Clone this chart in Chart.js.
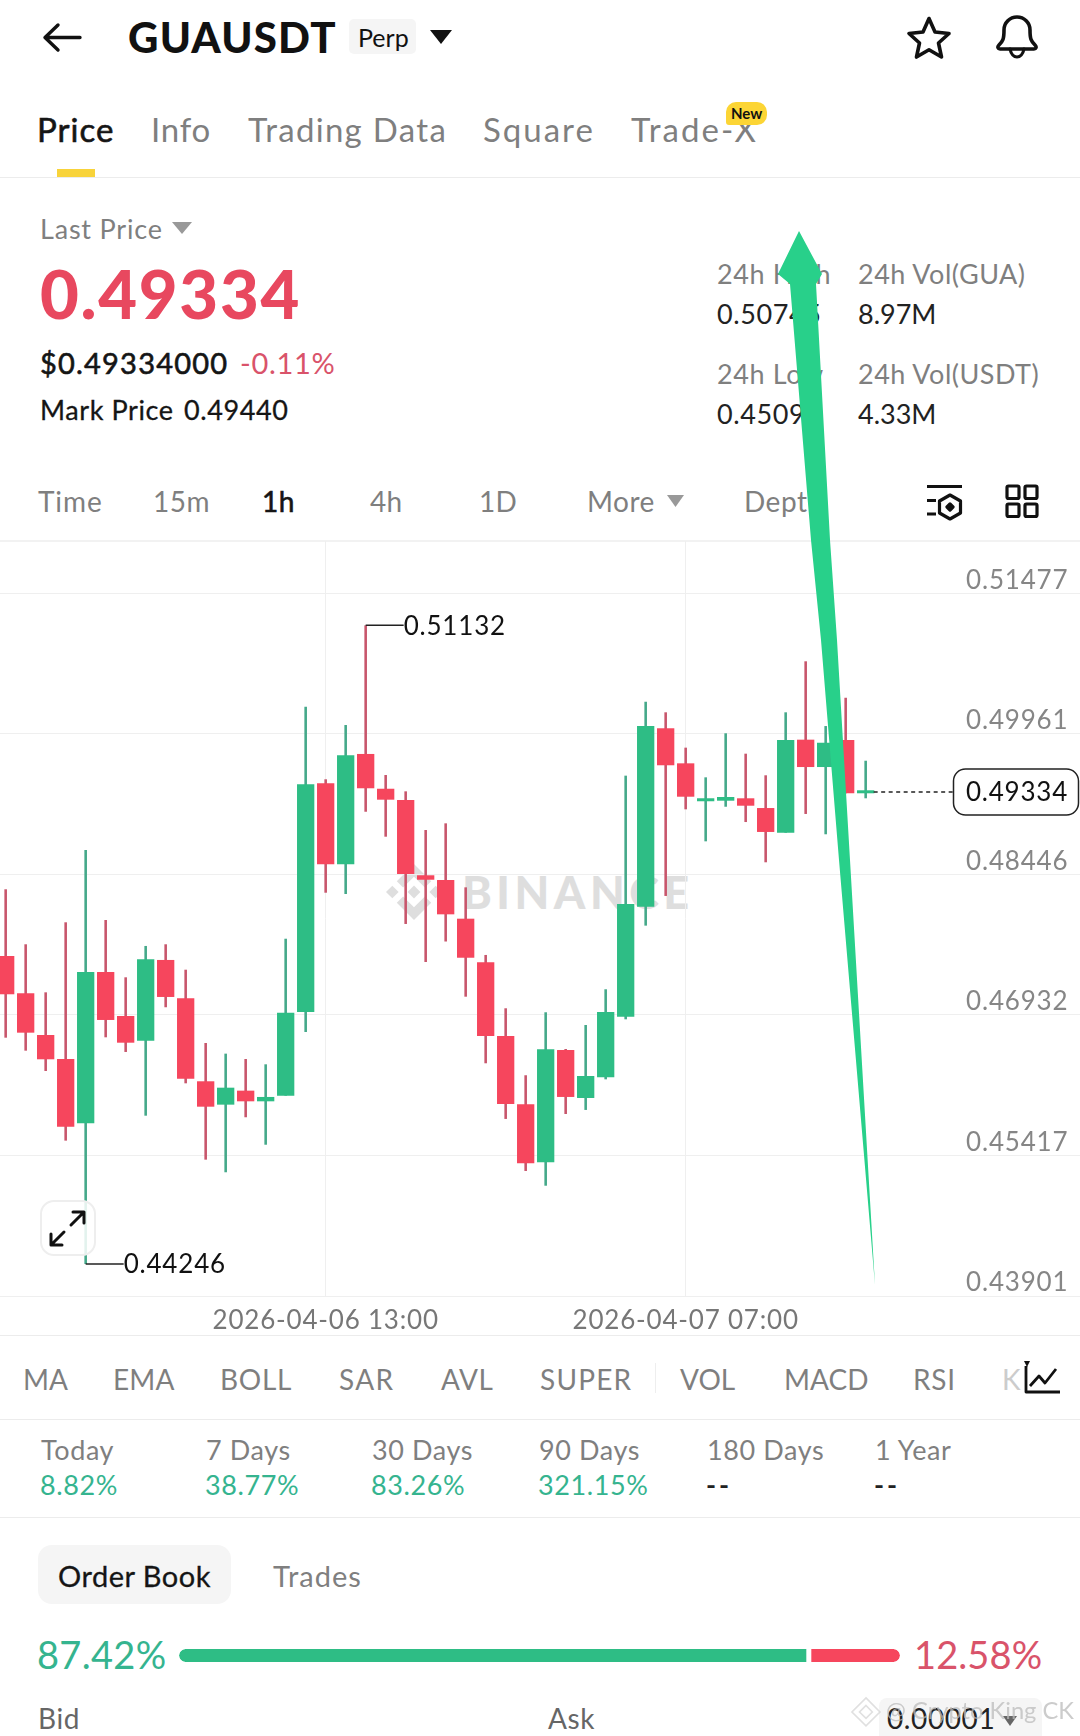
<!DOCTYPE html>
<html>
<head>
<meta charset="utf-8">
<title>GUAUSDT Perp</title>
<script src="https://cdn.jsdelivr.net/npm/chart.js@4/dist/chart.umd.min.js"></script>
<style>
  html, body { margin: 0; padding: 0; background: #fff; }
  body { position: relative; width: 1080px; height: 1736px; overflow: hidden; font-family: Lato, sans-serif; color: #111; }
  .t { position: absolute; white-space: nowrap; line-height: 1; transform: translateY(-50%); letter-spacing: .6px; }
  .g { color: #7f7f7f; }
  .hr { position: absolute; left: 0; width: 1080px; height: 1px; background: #ececec; }
  .box { position: absolute; }
  svg { position: absolute; overflow: visible; }
  #kline { position: absolute; left: 0; top: 541px; z-index: 1; }
  #depth { position: absolute; left: 179px; top: 1645px; }
  .wm { color: #dedede; font-weight: 900; }
</style>
</head>
<body>

<!-- header -->
<svg style="left:0;top:0" width="1080" height="60" fill="none" stroke="#111" stroke-width="3.4" stroke-linecap="round" stroke-linejoin="round">
  <path d="M80 37.5H45M58 25L45 37.5L58 50"/>
  <path d="M929 18.5l6 13.5 14 1.5-10.5 9.5 3 14-12.5-7.3-12.5 7.3 3-14-10.5-9.5 14-1.5z" stroke-width="3.6"/>
  <path d="M1004 30a13 13 0 0 1 26 0c0 9 1 11 5 15 2 2 1 4-1 4h-34c-2 0-3-2-1-4 4-4 5-6 5-15z" stroke-width="3.6"/>
  <path d="M1010 49c1 5 4 8 7 8s6-3 7-8" stroke-width="3.2"/>
</svg>
<div class="t" style="left:128px;top:37px;font-size:42px;font-weight:900;letter-spacing:1.2px">GUAUSDT</div>
<div class="box" style="left:349px;top:19px;width:67px;height:35px;background:#f5f5f5;border-radius:5px"></div>
<div class="t" style="left:358px;top:37px;font-size:25px;letter-spacing:0">Perp</div>
<svg style="left:430px;top:30px" width="22" height="14"><path d="M0 0H22L11 14Z" fill="#111"/></svg>

<!-- tabs -->
<div class="t" style="left:37px;top:129px;font-size:33px;color:#151515;-webkit-text-stroke:.6px #151515;letter-spacing:1px">Price</div>
<div class="t g" style="left:151px;top:129px;font-size:33px;letter-spacing:.8px">Info</div>
<div class="t g" style="left:248px;top:129px;font-size:33px;letter-spacing:1.3px">Trading Data</div>
<div class="t g" style="left:483px;top:129px;font-size:33px;letter-spacing:2px">Square</div>
<div class="t g" style="left:631px;top:129px;font-size:33px;letter-spacing:2px">Trade-X</div>
<div class="box" style="left:726px;top:102px;width:41px;height:23px;background:#fcd535;border-radius:10px 10px 10px 3px"></div>
<div class="t" style="left:731px;top:113px;font-size:15px;font-weight:700;letter-spacing:0">New</div>
<div class="box" style="left:57px;top:169px;width:38px;height:8px;background:#f8d33a"></div>
<div class="hr" style="top:177px"></div>

<!-- price block -->
<div class="t g" style="left:40px;top:228px;font-size:27px;letter-spacing:.8px">Last Price</div>
<svg style="left:172px;top:222px" width="20" height="12"><path d="M0 0H20L10 12Z" fill="#999"/></svg>
<div class="t" style="left:40px;top:293px;font-size:67px;font-weight:900;color:#e8485f;letter-spacing:1.7px">0.49334</div>
<div class="t" style="left:40px;top:362px;font-size:29px;color:#151515;-webkit-text-stroke:.6px #151515;letter-spacing:1.2px">$0.49334000</div>
<div class="t" style="left:240px;top:362px;font-size:29px;color:#d9536a;letter-spacing:.7px">-0.11%</div>
<div class="t" style="left:40px;top:409px;font-size:27px;color:#151515;-webkit-text-stroke:.3px #151515">Mark Price</div>
<div class="t" style="left:184px;top:409px;font-size:27px;color:#151515;-webkit-text-stroke:.3px #151515">0.49440</div>

<div class="t g" style="left:717px;top:273px;font-size:27px">24h High</div>
<div class="t g" style="left:858px;top:273px;font-size:27px;letter-spacing:.5px">24h Vol(GUA)</div>
<div class="t" style="left:717px;top:313px;font-size:27px;color:#222">0.50745</div>
<div class="t" style="left:858px;top:313px;font-size:27px;color:#222;letter-spacing:0">8.97M</div>
<div class="t g" style="left:717px;top:373px;font-size:27px">24h Low</div>
<div class="t g" style="left:858px;top:373px;font-size:27px;letter-spacing:.5px">24h Vol(USDT)</div>
<div class="t" style="left:717px;top:413px;font-size:27px;color:#222">0.45090</div>
<div class="t" style="left:858px;top:413px;font-size:27px;color:#222;letter-spacing:0">4.33M</div>

<!-- interval row -->
<div class="t g" style="left:38px;top:501px;font-size:28px;letter-spacing:.9px">Time</div>
<div class="t g" style="left:153px;top:501px;font-size:28px;letter-spacing:.5px">15m</div>
<div class="t" style="left:262px;top:501px;font-size:28px;color:#151515;-webkit-text-stroke:.6px #151515;letter-spacing:.4px">1h</div>
<div class="t g" style="left:370px;top:501px;font-size:28px;letter-spacing:.3px">4h</div>
<div class="t g" style="left:479px;top:501px;font-size:28px;letter-spacing:.3px">1D</div>
<div class="t g" style="left:587px;top:501px;font-size:28px;letter-spacing:.5px">More</div>
<svg style="left:667px;top:495px" width="17" height="12"><path d="M0 0H17L8.5 12Z" fill="#999"/></svg>
<div class="t g" style="left:744px;top:501px;font-size:28px;letter-spacing:.5px">Depth</div>
<svg style="left:0;top:480px" width="1080" height="50" fill="none" stroke="#111" stroke-width="3.2" stroke-linejoin="round">
  <path d="M927 6.5H962M927 20.5H936M927 34H936"/>
  <path d="M950 15l10.5 6v12l-10.5 6-10.5-6v-12z"/>
  <path d="M950 24l3 3-3 3-3-3z" fill="#111"/>
  <rect x="1007" y="6" width="12" height="12.5" rx="1.5"/><rect x="1025" y="6" width="12" height="12.5" rx="1.5"/>
  <rect x="1007" y="24" width="12" height="12.5" rx="1.5"/><rect x="1025" y="24" width="12" height="12.5" rx="1.5"/>
</svg>
<div class="hr" style="top:540px;height:2px;background:#f2f2f2"></div>

<!-- watermark sits behind the transparent chart canvas -->
<svg style="left:386px;top:864px" width="56" height="56" viewBox="0 0 126.61 126.61" fill="#dedede">
  <path d="M38.73 53.2L63.3 28.63l24.6 24.6 14.3-14.3L63.3 0 24.43 38.9z"/>
  <path d="M0 63.31l14.3-14.3 14.3 14.3-14.3 14.3z"/>
  <path d="M38.73 73.41l24.57 24.57 24.6-24.6 14.31 14.29-38.9 38.94-38.88-38.89z"/>
  <path d="M98.02 63.31l14.3-14.3 14.3 14.3-14.3 14.3z"/>
  <path d="M77.83 63.3L63.3 48.78 48.78 63.3 63.3 77.83z"/>
</svg>
<div class="t wm" style="left:462px;top:892px;font-size:45px;letter-spacing:4.5px">BINANCE</div>

<canvas id="kline" width="1080" height="794"></canvas>

<!-- expand button -->
<div class="box" style="left:40px;top:1200px;width:52px;height:52px;border:2px solid #eee;border-radius:14px;background:rgba(255,255,255,.85);z-index:2"></div>
<svg style="left:0;top:1200px;z-index:2" width="110" height="60" fill="none" stroke="#111" stroke-width="3" stroke-linecap="round" stroke-linejoin="round">
  <path d="M71 25L84 12M73 12H84V23M64 32L51 45M51 34V45H62"/>
</svg>

<div class="hr" style="top:1335px"></div>

<!-- indicators -->
<div class="t g" style="left:23px;top:1379px;font-size:28px;letter-spacing:0">MA</div>
<div class="t g" style="left:113px;top:1379px;font-size:28px;letter-spacing:.2px">EMA</div>
<div class="t g" style="left:220px;top:1379px;font-size:28px;letter-spacing:.7px">BOLL</div>
<div class="t g" style="left:339px;top:1379px;font-size:28px;letter-spacing:1.3px">SAR</div>
<div class="t g" style="left:441px;top:1379px;font-size:28px;letter-spacing:.5px">AVL</div>
<div class="t g" style="left:540px;top:1379px;font-size:28px;letter-spacing:1.2px">SUPER</div>
<div class="box" style="left:655px;top:1363px;width:1px;height:30px;background:#eee"></div>
<div class="t g" style="left:680px;top:1379px;font-size:28px;letter-spacing:0">VOL</div>
<div class="t g" style="left:784px;top:1379px;font-size:28px;letter-spacing:0">MACD</div>
<div class="t g" style="left:913px;top:1379px;font-size:28px;letter-spacing:.8px">RSI</div>
<div class="t" style="left:1002px;top:1379px;font-size:28px;color:#ccc">K</div>
<svg style="left:1024px;top:1358px" width="38" height="38" fill="none" stroke="#111" stroke-width="2.8" stroke-linejoin="round">
  <path d="M2 8V34H36"/><path d="M6 28L15 18l6 7L32 11"/><path d="M0 3H6L3 9Z" fill="#111" stroke="none"/>
</svg>
<div class="hr" style="top:1419px"></div>

<!-- period returns -->
<div id="stats"></div>
<div class="hr" style="top:1517px"></div>

<!-- order book -->
<div class="box" style="left:38px;top:1545px;width:193px;height:59px;background:#f5f5f5;border-radius:14px"></div>
<div class="t" style="left:58px;top:1575px;font-size:29px;color:#151515;-webkit-text-stroke:.3px #151515;letter-spacing:.5px">Order Book</div>
<div class="t g" style="left:273px;top:1575px;font-size:29px;letter-spacing:1px">Trades</div>
<div class="t" id="bidPct" style="left:37px;top:1654px;font-size:38px;color:#35b48f;letter-spacing:.3px"></div>
<div class="t" id="askPct" style="left:914px;top:1654px;font-size:38px;color:#d9536a;letter-spacing:.1px"></div>
<canvas id="depth" width="721" height="21"></canvas>

<div class="t" style="left:38px;top:1718px;font-size:28px;color:#666">Bid</div>
<div class="t" style="left:548px;top:1718px;font-size:28px;color:#666">Ask</div>
<div class="box" style="left:879px;top:1698px;width:163px;height:38px;background:#f5f5f5;border-radius:8px 8px 0 0"></div>
<div class="t" style="left:887px;top:1718px;font-size:28px;color:#222">0.00001</div>
<svg style="left:1003px;top:1716px" width="14" height="10"><path d="M0 0H14L7 10Z" fill="#666"/></svg>

<!-- image credit over the page -->
<svg style="left:851px;top:1697px;z-index:4;opacity:.6" width="30" height="30" viewBox="0 0 126.61 126.61" fill="none" stroke="#ccc" stroke-width="7">
  <path d="M63.3 4L122 63.3 63.3 122 4 63.3z"/><path d="M63.3 36L90 63.3 63.3 90 36 63.3z"/>
</svg>
<div class="t" style="left:886px;top:1711px;font-size:23.7px;color:#bbb;opacity:.75;z-index:4;letter-spacing:0">@ Crypto King CK</div>

<!-- the hand-drawn arrow over the screenshot -->
<svg style="left:0;top:0;z-index:3" width="1080" height="1736">
  <polygon fill="#28d08a" points="799,231 822,274 816,284 830,540 837,640 850,860 875,1285 839,860 821,640 811,540 790,284 778,274"/>
</svg>

<script>
// 1h candles, oldest first
const opens = [
  0.47567, 0.47165, 0.46715, 0.46456, 0.45763, 0.47394, 0.46920, 0.46654, 0.47524, 0.47111, 0.46216,
  0.45964, 0.46115, 0.46000, 0.46061, 0.46963, 0.49429, 0.48555, 0.49745, 0.49370, 0.49249, 0.48437,
  0.48386, 0.47969, 0.47499, 0.46704, 0.45968, 0.45343, 0.46553, 0.46036, 0.46259, 0.46911, 0.48098,
  0.50022, 0.49644, 0.49235, 0.49241, 0.49267, 0.49162, 0.48896, 0.49899, 0.49604, 0.49896, 0.49321
];
const closes = [
  0.47154, 0.46740, 0.46453, 0.45726, 0.47394, 0.46877, 0.46632, 0.47531, 0.47125, 0.46244, 0.45942,
  0.46147, 0.46000, 0.46047, 0.46956, 0.49418, 0.48555, 0.49731, 0.49375, 0.49252, 0.48451, 0.48389,
  0.48016, 0.47548, 0.46704, 0.45971, 0.45332, 0.46561, 0.46047, 0.46273, 0.46963, 0.48127, 0.50046,
  0.49623, 0.49284, 0.49256, 0.49281, 0.49187, 0.48904, 0.49896, 0.49604, 0.49866, 0.49321, 0.49334
];
const highs = [
  0.48286, 0.47693, 0.47175, 0.47930, 0.48710, 0.47955, 0.47337, 0.47675, 0.47693, 0.47419, 0.46629,
  0.46514, 0.46456, 0.46399, 0.47753, 0.50255, 0.49472, 0.50057, 0.51132, 0.49518, 0.49342, 0.48925,
  0.48997, 0.48307, 0.47578, 0.47003, 0.46281, 0.46960, 0.46564, 0.46823, 0.47208, 0.49511, 0.50308,
  0.50194, 0.49813, 0.49493, 0.49968, 0.49748, 0.49515, 0.50194, 0.50744, 0.50046, 0.50351, 0.49672
];
const lows = [
  0.46686, 0.46546, 0.46327, 0.45576, 0.44246, 0.46690, 0.46532, 0.45845, 0.47014, 0.46194, 0.45371,
  0.45235, 0.45828, 0.45532, 0.46061, 0.46747, 0.48249, 0.48235, 0.49122, 0.48853, 0.47912, 0.47502,
  0.47723, 0.47128, 0.46410, 0.45810, 0.45249, 0.45090, 0.45863, 0.45907, 0.46237, 0.46884, 0.47894,
  0.48214, 0.49148, 0.48803, 0.49176, 0.49011, 0.48577, 0.48896, 0.49098, 0.48879, 0.49321, 0.49267
];
const priceTicks = [0.51477, 0.49961, 0.48446, 0.46932, 0.45417, 0.43901];
const timeTicks = [16, 34];
const timeLabels = ["2026-04-06 13:00", "2026-04-07 07:00"];
const lastPrice = 0.49334;
const highIndex = 18;
const lowIndex = 4;

const statLabels = ["Today", "7 Days", "30 Days", "90 Days", "180 Days", "1 Year"];
const statValues = ["8.82%", "38.77%", "83.26%", "321.15%", "--", "--"];
const statLefts = [41, 206, 372, 539, 707, 875];
const bidShare = [87.42];
const askShare = [12.58];

const UP = "#2ebd85", DOWN = "#f6465d", UP_WICK = "#45a98a", DOWN_WICK = "#c8566c";
const isUp = (i) => closes[i] >= opens[i];

document.getElementById("stats").innerHTML = statLabels.map((s, i) => {
  const v = statValues[i];
  const col = v === "--" ? "#222;letter-spacing:3px;font-weight:700" : "#35b48f";
  return `<div class="t g" style="left:${statLefts[i]}px;top:1449px;font-size:27px">${s}</div>
    <div class="t" style="left:${statLefts[i] - 1}px;top:1484px;font-size:27px;color:${col}">${v}</div>`;
}).join("");
document.getElementById("bidPct").textContent = bidShare[0].toFixed(2) + "%";
document.getElementById("askPct").textContent = askShare[0].toFixed(2) + "%";

// min/max leaders, last price line and its boxed label
const priceMarks = {
  id: "priceMarks",
  afterDatasetsDraw(chart) {
    const { ctx, scales: { x, y } } = chart;
    const leader = (i, v) => {
      const px = x.getPixelForValue(i), py = y.getPixelForValue(v);
      ctx.strokeStyle = "#222";
      ctx.lineWidth = 1.5;
      ctx.beginPath();
      ctx.moveTo(px, py);
      ctx.lineTo(px + 38, py);
      ctx.stroke();
      ctx.fillStyle = "#111";
      ctx.font = "26px Lato";
      ctx.textAlign = "left";
      ctx.textBaseline = "middle";
      ctx.fillText(v.toFixed(5), px + 38, py + 1);
    };
    ctx.save();
    ctx.letterSpacing = "0.8px";
    leader(highIndex, highs[highIndex]);
    leader(lowIndex, lows[lowIndex]);

    const py = y.getPixelForValue(lastPrice);
    ctx.setLineDash([4, 3.5]);
    ctx.strokeStyle = "#222";
    ctx.lineWidth = 1.5;
    ctx.beginPath();
    ctx.moveTo(x.getPixelForValue(opens.length - 1) + 8, py);
    ctx.lineTo(953, py);
    ctx.stroke();
    ctx.setLineDash([]);
    ctx.fillStyle = "#fff";
    ctx.lineWidth = 1.5;
    ctx.beginPath();
    ctx.roundRect(953.5, py - 23, 125, 46, 12);
    ctx.fill();
    ctx.stroke();
    ctx.fillStyle = "#111";
    ctx.textAlign = "center";
    ctx.fillText(lastPrice.toFixed(5), 1017, py + 1);
    ctx.restore();
  },
};

const tickSpacing = { id: "tickSpacing", beforeDraw(chart) { chart.ctx.letterSpacing = "0.8px"; } };

const idx = opens.map((_, i) => i);
new Chart(document.getElementById("kline"), {
  type: "bar",
  data: {
    datasets: [
      {
        label: "wick",
        order: 2,
        data: idx.map((i) => ({ x: i, y: [lows[i], highs[i]] })),
        backgroundColor: idx.map((i) => (isUp(i) ? UP_WICK : DOWN_WICK)),
        barThickness: 2.6,
        grouped: false,
        inflateAmount: 0,
      },
      {
        label: "body",
        order: 1,
        data: idx.map((i) => ({ x: i, y: [opens[i], closes[i]] })),
        backgroundColor: idx.map((i) => (isUp(i) ? UP : DOWN)),
        barThickness: 17.3,
        minBarLength: 3,
        grouped: false,
        inflateAmount: 0,
      },
    ],
  },
  options: {
    responsive: false,
    animation: false,
    devicePixelRatio: 1,
    layout: { padding: 0 },
    plugins: { legend: { display: false }, tooltip: { enabled: false } },
    scales: {
      x: {
        type: "linear",
        min: -0.2835,
        max: 53.7165,
        offset: false,
        afterBuildTicks: (s) => { s.ticks = timeTicks.map((v) => ({ value: v })); },
        afterFit: (s) => { s.height = 39; s.paddingLeft = 0; s.paddingRight = 0; },
        grid: { color: "#efefef", drawTicks: false, offset: false },
        border: { display: false },
        ticks: {
          autoSkip: false,
          maxRotation: 0,
          padding: 9,
          color: "#777",
          font: { family: "Lato", size: 26 },
          callback: (v) => timeLabels[timeTicks.indexOf(v)],
        },
      },
      y: {
        position: "right",
        min: 0.43901,
        max: 0.52041,
        afterBuildTicks: (s) => { s.ticks = priceTicks.map((v) => ({ value: v })); },
        afterFit: (s) => { s.width = 0; s.paddingTop = 0; s.paddingBottom = 0; },
        grid: { color: "#efefef", drawTicks: false },
        border: { display: false },
        ticks: {
          mirror: true,
          crossAlign: "near",
          padding: -11.7,
          labelOffset: -13,
          color: "#868686",
          font: { family: "Lato", size: 26 },
          callback: (v) => v.toFixed(5),
        },
      },
    },
  },
  plugins: [tickSpacing, priceMarks],
});

// order book bid/ask split
new Chart(document.getElementById("depth"), {
  type: "bar",
  data: {
    labels: ["book"],
    datasets: [
      { data: bidShare, backgroundColor: UP, barThickness: 13, borderSkipped: false, inflateAmount: 0,
        borderColor: "#fff", borderWidth: { right: 3 }, borderRadius: { topLeft: 7, bottomLeft: 7 } },
      { data: askShare, backgroundColor: DOWN, barThickness: 13, borderSkipped: false, inflateAmount: 0,
        borderColor: "#fff", borderWidth: { left: 2 }, borderRadius: { topRight: 7, bottomRight: 7 } },
    ],
  },
  options: {
    indexAxis: "y",
    responsive: false,
    animation: false,
    devicePixelRatio: 1,
    layout: { padding: 0 },
    plugins: { legend: { display: false }, tooltip: { enabled: false } },
    scales: {
      x: { display: false, stacked: true, min: 0, max: 100 },
      y: { display: false, stacked: true },
    },
  },
});
</script>
</body>
</html>
